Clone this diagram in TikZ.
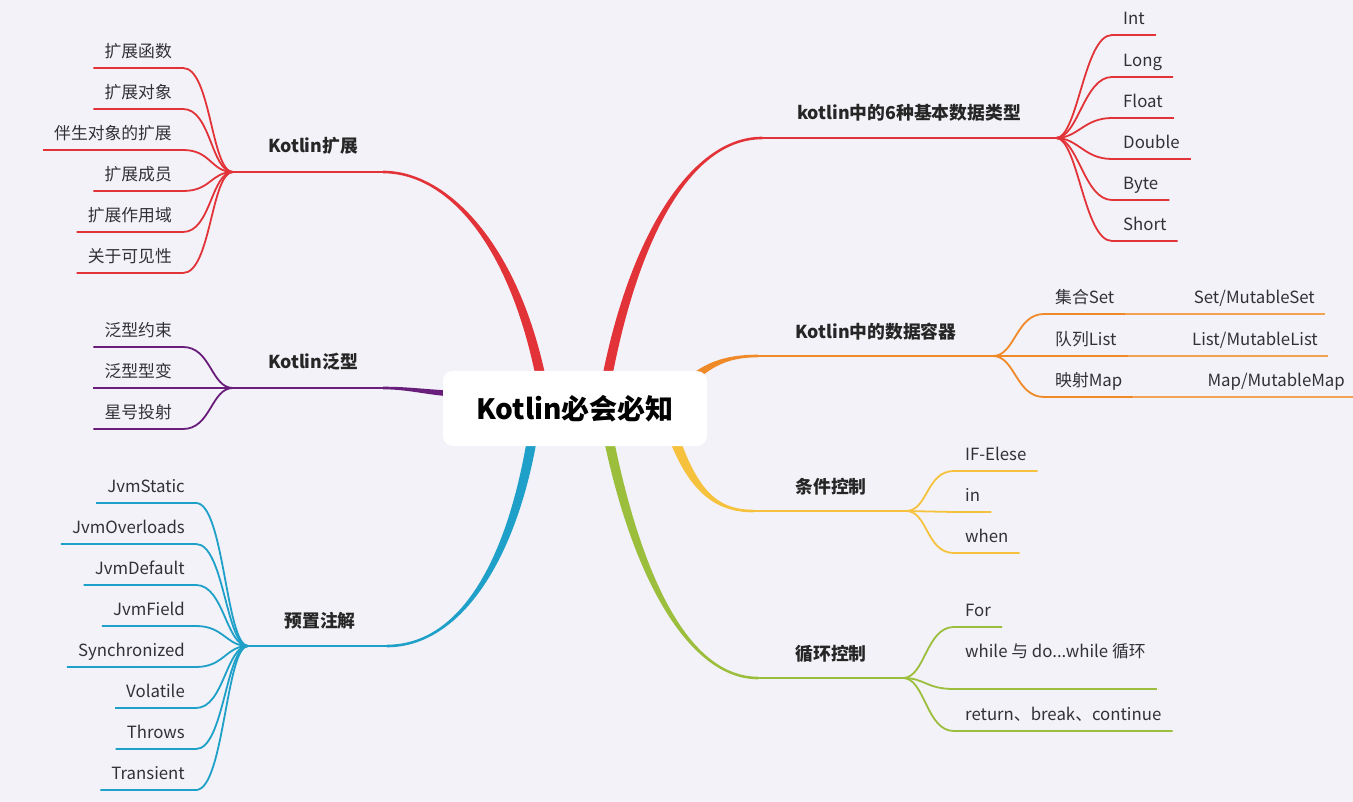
\documentclass[tikz,border=0pt]{standalone}
\usepackage{fontspec}
\setmainfont{Noto Sans CJK SC}
\usepackage{tikz}
\usetikzlibrary{calc,backgrounds}

\definecolor{bgcol}{RGB}{243,242,248}
\definecolor{kred}{RGB}{226,52,56}
\definecolor{kpurple}{RGB}{106,30,124}
\definecolor{kblue}{RGB}{30,160,200}
\definecolor{korange}{RGB}{240,138,40}
\definecolor{kyellow}{RGB}{246,194,62}
\definecolor{kgreen}{RGB}{155,190,60}
\definecolor{leaftext}{RGB}{50,50,54}

% tapered main branch: colour, start, control 1, control 2, end, half width at start, half width at end
\newcommand{\taper}[7]{%
  \fill[#1] ($#2+#6$) .. controls ($#3+#6$) and ($#4+#7$) .. ($#5+#7$)
    -- ($#5-#7$) .. controls ($#4-#7$) and ($#3-#6$) .. ($#2-#6$) -- cycle;}

\begin{document}
\begin{tikzpicture}[x=1pt, y=-1pt,
    lleaf/.style={anchor=south east, inner xsep=11pt, inner ysep=7pt, text height=12pt, text depth=3pt,
        text=leaftext, font=\fontsize{16.8}{19}\selectfont},
    rleaf/.style={lleaf, anchor=south west},
    branch/.style={anchor=base, text=black!85, font=\bfseries\fontsize{17.8}{20}\selectfont},
    twig/.style={line width=1.8pt}]
            \useasboundingbox (0,0) rectangle (1353,802);

            \node[rectangle, rounded corners=10pt, fill=white, minimum width=264pt, minimum height=75pt,
                font=\bfseries\fontsize{28}{32}\selectfont] (root) at (575,408.5) {Kotlin必会必知};

            \node[branch] (ext) at (313,152.5) {Kotlin扩展};
            \node[branch] (gen) at (313,368.5) {Kotlin泛型};
            \node[branch] (ann) at (320,627.5) {预置注解};
            \node[branch] (typ) at (909,120) {kotlin中的6种基本数据类型};
            \node[branch] (con) at (876,338.5) {Kotlin中的数据容器};
            \node[branch] (cond) at (831,493.5) {条件控制};
            \node[branch] (loop) at (831,660.5) {循环控制};

            \coordinate (extS) at (545,400);  \coordinate (extE) at (383,172);  \coordinate (extHub) at (233,172);
            \coordinate (genS) at (460,394);  \coordinate (genE) at (383,388);  \coordinate (genHub) at (233,388);
            \coordinate (annS) at (535,420);  \coordinate (annE) at (387,646);  \coordinate (annHub) at (248,646);
            \coordinate (typS) at (603,400);  \coordinate (typE) at (762,138);  \coordinate (typHub) at (1056,138);
            \coordinate (conS) at (680,390);  \coordinate (conE) at (758,356);  \coordinate (conHub) at (993,356);
            \coordinate (condS) at (668,420); \coordinate (condE) at (753,511); \coordinate (condHub) at (906,511);
            \coordinate (loopS) at (605,420); \coordinate (loopE) at (758,678); \coordinate (loopHub) at (903,678);

            \begin{scope}[on background layer]
            \fill[bgcol] (0,0) rectangle (1353,802);
            \taper{kred}{(extS)}{(520,250)}{(450,172)}{(extE)}{(5,0)}{(0,-1.3)}
            \taper{kpurple}{(genS)}{(430,393)}{(410,388)}{(genE)}{(0,-3)}{(0,-1.3)}
            \taper{kblue}{(annS)}{(515,560)}{(460,646)}{(annE)}{(-5,0)}{(0,-1.3)}
            \taper{kred}{(typS)}{(630,240)}{(690,138)}{(typE)}{(5,0)}{(0,1.3)}
            \taper{korange}{(conS)}{(705,365)}{(725,356)}{(conE)}{(3,3)}{(0,1.3)}
            \taper{kyellow}{(condS)}{(690,490)}{(715,511)}{(condE)}{(-5,1.5)}{(0,1.3)}
            \taper{kgreen}{(loopS)}{(635,580)}{(690,678)}{(loopE)}{(-5,0)}{(0,1.3)}
            \draw[kred, line width=2.6pt] (extE) -- (extHub);
            \draw[kpurple, line width=2.6pt] (genE) -- (genHub);
            \draw[kblue, line width=2.6pt] (annE) -- (annHub);
            \draw[kred, line width=2.6pt] (typE) -- (typHub);
            \draw[korange, line width=2.6pt] (conE) -- (conHub);
            \draw[kyellow, line width=2.6pt] (condE) -- (condHub);
            \draw[kgreen, line width=2.6pt] (loopE) -- (loopHub);
            \end{scope}

            %Kotlin扩展
            \node[lleaf] (e1) at (183,68) {扩展函数};
            \node[lleaf] (e2) at (183,109) {扩展对象};
            \node[lleaf] (e3) at (183,150) {伴生对象的扩展};
            \node[lleaf] (e4) at (183,191) {扩展成员};
            \node[lleaf] (e5) at (183,232) {扩展作用域};
            \node[lleaf] (e6) at (183,273) {关于可见性};
            \draw[kred, twig] (extHub) .. controls +(-22,0) and +(28,0) .. (e1.south east) -- (e1.south west);
            \draw[kred, twig] (extHub) .. controls +(-22,0) and +(28,0) .. (e2.south east) -- (e2.south west);
            \draw[kred, twig] (extHub) .. controls +(-22,0) and +(28,0) .. (e3.south east) -- (e3.south west);
            \draw[kred, twig] (extHub) .. controls +(-22,0) and +(28,0) .. (e4.south east) -- (e4.south west);
            \draw[kred, twig] (extHub) .. controls +(-22,0) and +(28,0) .. (e5.south east) -- (e5.south west);
            \draw[kred, twig] (extHub) .. controls +(-22,0) and +(28,0) .. (e6.south east) -- (e6.south west);

            %Kotlin泛型
            \node[lleaf] (g1) at (183,347) {泛型约束};
            \node[lleaf] (g2) at (183,388) {泛型型变};
            \node[lleaf] (g3) at (183,429) {星号投射};
            \draw[kpurple, twig] (genHub) .. controls +(-22,0) and +(28,0) .. (g1.south east) -- (g1.south west);
            \draw[kpurple, twig] (genHub) -- (g2.south east) -- (g2.south west);
            \draw[kpurple, twig] (genHub) .. controls +(-22,0) and +(28,0) .. (g3.south east) -- (g3.south west);

            %预置注解
            \node[lleaf] (a1) at (196,503) {JvmStatic};
            \node[lleaf] (a2) at (196,544) {JvmOverloads};
            \node[lleaf] (a3) at (196,585) {JvmDefault};
            \node[lleaf] (a4) at (196,626) {JvmField};
            \node[lleaf] (a5) at (196,667) {Synchronized};
            \node[lleaf] (a6) at (196,708) {Volatile};
            \node[lleaf] (a7) at (196,749) {Throws};
            \node[lleaf] (a8) at (196,790) {Transient};
            \draw[kblue, twig] (annHub) .. controls +(-22,0) and +(28,0) .. (a1.south east) -- (a1.south west);
            \draw[kblue, twig] (annHub) .. controls +(-22,0) and +(28,0) .. (a2.south east) -- (a2.south west);
            \draw[kblue, twig] (annHub) .. controls +(-22,0) and +(28,0) .. (a3.south east) -- (a3.south west);
            \draw[kblue, twig] (annHub) .. controls +(-22,0) and +(28,0) .. (a4.south east) -- (a4.south west);
            \draw[kblue, twig] (annHub) .. controls +(-22,0) and +(28,0) .. (a5.south east) -- (a5.south west);
            \draw[kblue, twig] (annHub) .. controls +(-22,0) and +(28,0) .. (a6.south east) -- (a6.south west);
            \draw[kblue, twig] (annHub) .. controls +(-22,0) and +(28,0) .. (a7.south east) -- (a7.south west);
            \draw[kblue, twig] (annHub) .. controls +(-22,0) and +(28,0) .. (a8.south east) -- (a8.south west);

            %基本数据类型
            \node[rleaf] (t1) at (1112,35) {Int};
            \node[rleaf] (t2) at (1112,77) {Long};
            \node[rleaf] (t3) at (1112,118) {Float};
            \node[rleaf] (t4) at (1112,159) {Double};
            \node[rleaf] (t5) at (1112,200) {Byte};
            \node[rleaf] (t6) at (1112,241) {Short};
            \draw[kred, twig] (typHub) .. controls +(22,0) and +(-28,0) .. (t1.south west) -- (t1.south east);
            \draw[kred, twig] (typHub) .. controls +(22,0) and +(-28,0) .. (t2.south west) -- (t2.south east);
            \draw[kred, twig] (typHub) .. controls +(22,0) and +(-28,0) .. (t3.south west) -- (t3.south east);
            \draw[kred, twig] (typHub) .. controls +(22,0) and +(-28,0) .. (t4.south west) -- (t4.south east);
            \draw[kred, twig] (typHub) .. controls +(22,0) and +(-28,0) .. (t5.south west) -- (t5.south east);
            \draw[kred, twig] (typHub) .. controls +(22,0) and +(-28,0) .. (t6.south west) -- (t6.south east);

            %数据容器
            \node[rleaf] (c1) at (1044,314) {集合Set};
            \node[rleaf] (c2) at (1044,356) {队列List};
            \node[rleaf] (c3) at (1044,397) {映射Map};
            \node[lleaf, inner xsep=10pt] (c1x) at (1325,314) {Set/MutableSet};
            \node[lleaf, inner xsep=10pt] (c2x) at (1328,356) {List/MutableList};
            \node[lleaf, inner xsep=10pt] (c3x) at (1355,397) {Map/MutableMap};
            \draw[korange, twig] (conHub) .. controls +(22,0) and +(-28,0) .. (c1.south west) -- (c1.south east);
            \draw[korange, twig] (conHub) -- (c2.south west) -- (c2.south east);
            \draw[korange, twig] (conHub) .. controls +(22,0) and +(-28,0) .. (c3.south west) -- (c3.south east);
            \draw[korange!80, twig] (c1.south east) -- (c1x.south east);
            \draw[korange!80, twig] (c2.south east) -- (c2x.south east);
            \draw[korange!80, twig] (c3.south east) -- (c3x.south east);

            %条件控制
            \node[rleaf] (i1) at (954,471) {IF-Elese};
            \node[rleaf] (i2) at (954,512) {in};
            \node[rleaf] (i3) at (954,553) {when};
            \draw[kyellow, twig] (condHub) .. controls +(22,0) and +(-28,0) .. (i1.south west) -- (i1.south east);
            \draw[kyellow, twig] (condHub) -- (i2.south west) -- (i2.south east);
            \draw[kyellow, twig] (condHub) .. controls +(22,0) and +(-28,0) .. (i3.south west) -- (i3.south east);

            %循环控制
            \node[rleaf] (l1) at (954,627) {For};
            \node[rleaf, text depth=24pt] (l2) at (954,689) {while 与 do...while 循环};
            \node[rleaf] (l3) at (954,731) {return、break、continue};
            \draw[kgreen, twig] (loopHub) .. controls +(22,0) and +(-28,0) .. (l1.south west) -- (l1.south east);
            \draw[kgreen, twig] (loopHub) .. controls +(22,0) and +(-28,0) .. (l2.south west) -- (l2.south east);
            \draw[kgreen, twig] (loopHub) .. controls +(22,0) and +(-28,0) .. (l3.south west) -- (l3.south east);
        \end{tikzpicture}
\end{document}
